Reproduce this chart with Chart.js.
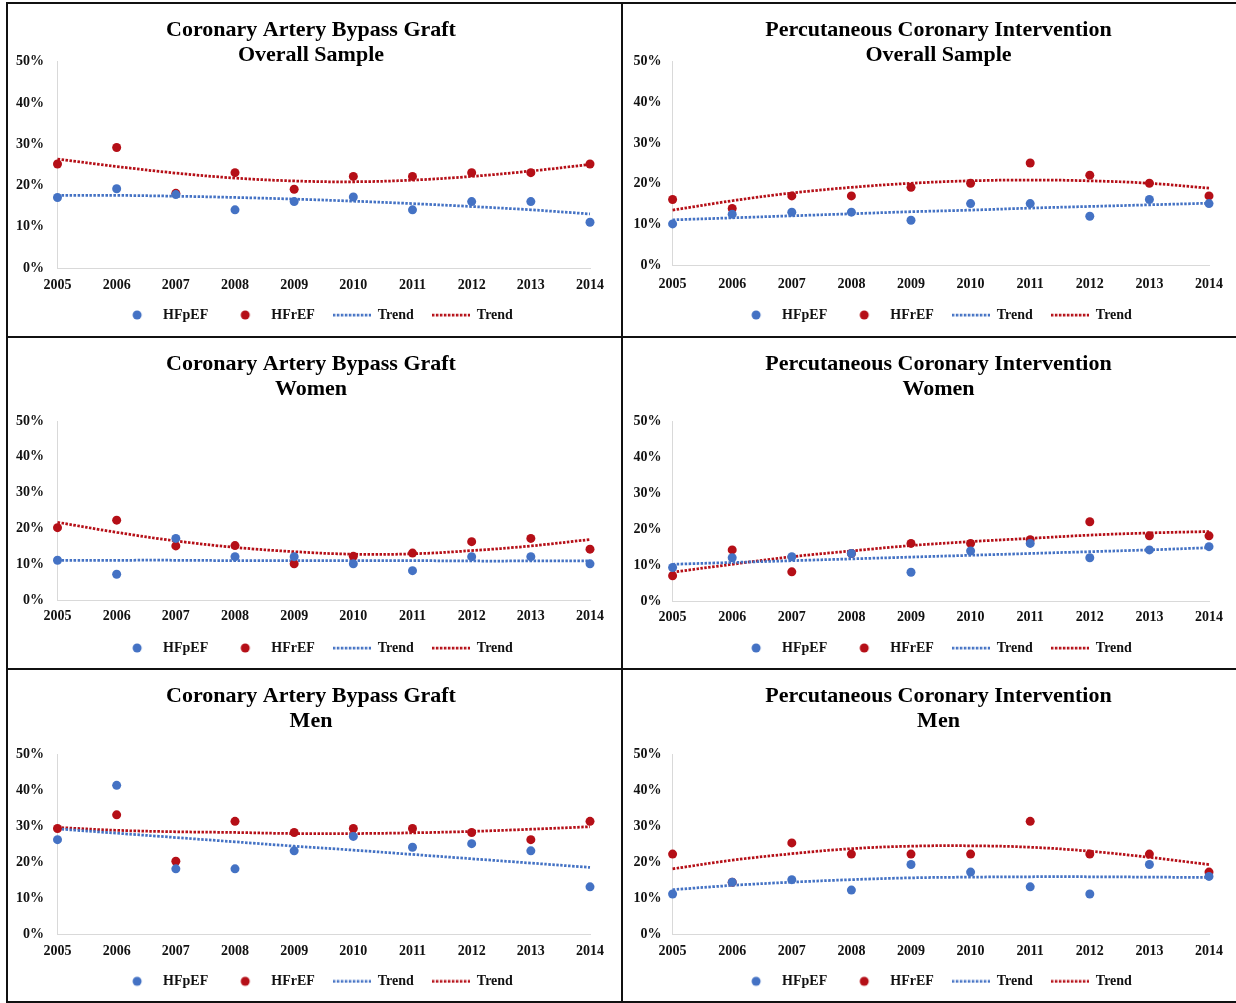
<!DOCTYPE html>
<html><head><meta charset="utf-8">
<script src="https://cdn.jsdelivr.net/npm/chart.js@4.4.1/dist/chart.umd.min.js"></script>
<style>
html,body{margin:0;padding:0;background:#fff;}
body{width:1236px;height:1003px;position:relative;overflow:hidden;}
canvas{position:absolute;}
.ln{position:absolute;background:#111;z-index:5;}
</style></head><body>
<canvas id="c0" width="613" height="332" style="left:8px;top:4px"></canvas>
<canvas id="c1" width="613" height="332" style="left:623px;top:4px"></canvas>
<canvas id="c2" width="613" height="330" style="left:8px;top:338px"></canvas>
<canvas id="c3" width="613" height="330" style="left:623px;top:338px"></canvas>
<canvas id="c4" width="613" height="331" style="left:8px;top:670px"></canvas>
<canvas id="c5" width="613" height="331" style="left:623px;top:670px"></canvas>
<div class="ln" style="left:6px;top:2px;width:1230px;height:2px"></div>
<div class="ln" style="left:6px;top:2px;width:2px;height:1001px"></div>
<div class="ln" style="left:6px;top:1001px;width:1230px;height:2px"></div>
<div class="ln" style="left:621px;top:2px;width:2px;height:1001px"></div>
<div class="ln" style="left:6px;top:336px;width:1230px;height:2px"></div>
<div class="ln" style="left:6px;top:668px;width:1230px;height:2px"></div>
<script>
// ---------- DATA ----------
const years = ['2005','2006','2007','2008','2009','2010','2011','2012','2013','2014'];
const seriesLabels = ['HFpEF','HFrEF','Trend','Trend'];
const yTicks = [0,10,20,30,40,50];

const titleCabgAll = ['Coronary Artery Bypass Graft','Overall Sample'];
const titlePciAll  = ['Percutaneous Coronary Intervention','Overall Sample'];
const titleCabgW   = ['Coronary Artery Bypass Graft','Women'];
const titlePciW    = ['Percutaneous Coronary Intervention','Women'];
const titleCabgM   = ['Coronary Artery Bypass Graft','Men'];
const titlePciM    = ['Percutaneous Coronary Intervention','Men'];

const cabgAllHFpEF      = [17.1,19.2,17.8,14.1,16.1,17.2,14.1,16.1,16.1,11.1];
const cabgAllHFrEF      = [25.2,29.2,18.1,23.1,19.1,22.2,22.2,23.1,23.1,25.2];
const cabgAllHFpEFTrend = [17.6,17.6,17.4,17.1,16.7,16.2,15.6,14.9,14.1,13.1];
const cabgAllHFrEFTrend = [26.4,24.6,23.0,21.8,21.1,20.9,21.3,22.2,23.5,25.1];

const pciAllHFpEF      = [10.1,12.5,13.0,13.0,11.0,15.1,15.1,12.0,16.1,15.1];
const pciAllHFrEF      = [16.1,13.9,17.0,17.0,19.1,20.1,25.1,22.1,20.1,17.0];
const pciAllHFpEFTrend = [11.1,11.6,12.1,12.6,13.1,13.5,14.0,14.4,14.8,15.2];
const pciAllHFrEFTrend = [13.5,15.8,17.7,19.1,20.1,20.7,20.9,20.7,20.1,18.9];

const cabgWHFpEF      = [11.1,7.2,17.2,12.1,12.1,10.1,8.2,12.1,12.1,10.1];
const cabgWHFrEF      = [20.2,22.3,15.1,15.2,10.1,12.2,13.1,16.3,17.2,14.2];
const cabgWHFpEFTrend = [11.1,11.1,11.1,11.0,11.0,11.0,11.0,10.9,10.9,10.9];
const cabgWHFrEFTrend = [21.7,18.9,16.5,14.7,13.5,12.8,12.9,13.8,15.1,16.9];

const pciWHFpEF      = [9.3,12.0,12.3,13.2,8.0,13.9,16.0,12.0,14.2,15.1];
const pciWHFrEF      = [7.0,14.2,8.1,13.2,16.0,16.0,17.0,22.0,18.1,18.1];
const pciWHFpEFTrend = [10.2,10.7,11.2,11.7,12.2,12.7,13.2,13.7,14.2,14.8];
const pciWHFrEFTrend = [8.0,10.2,12.3,13.9,15.4,16.5,17.4,18.3,18.9,19.3];

const cabgMHFpEF      = [26.2,41.3,18.1,18.1,23.1,27.1,24.1,25.1,23.1,13.1];
const cabgMHFrEF      = [29.3,33.1,20.2,31.3,28.2,29.3,29.3,28.2,26.2,31.3];
const cabgMHFpEFTrend = [29.2,28.0,26.8,25.6,24.4,23.3,22.1,20.9,19.7,18.5];
const cabgMHFrEFTrend = [29.6,28.8,28.4,28.2,27.9,27.9,28.1,28.5,29.1,29.8];

const pciMHFpEF      = [11.1,14.4,15.1,12.2,19.3,17.2,13.1,11.1,19.3,16.0];
const pciMHFrEF      = [22.2,14.4,25.3,22.2,22.2,22.2,31.3,22.2,22.2,17.2];
const pciMHFpEFTrend = [12.3,13.5,14.4,15.1,15.6,15.8,15.9,15.9,15.8,15.7];
const pciMHFrEFTrend = [18.1,20.5,22.3,23.7,24.4,24.5,24.1,23.0,21.3,19.3];

// ---------- STYLE / LAYOUT ----------
const BLUE = '#4472C4', RED = '#B50F17';
const FONT = '"Liberation Serif", "Times New Roman", serif';
Chart.defaults.font.family = FONT;
Chart.defaults.font.weight = 'bold';
Chart.defaults.color = '#111';

const COL1 = {left:49.5, padR:31, yPad:13.5, titleDx:12, legendDx:16.5};
const COL2 = {left:49.6, padR:27, yPad:11, titleDx:22.5, legendDx:18.5};

const panels = [
  {id:'c0', title:titleCabgAll, d:[cabgAllHFpEF,cabgAllHFrEF,cabgAllHFpEFTrend,cabgAllHFrEFTrend], C:COL1, L:{top:57.7,bottom:264,xlab:281,legend:311}},
  {id:'c1', title:titlePciAll,  d:[pciAllHFpEF,pciAllHFrEF,pciAllHFpEFTrend,pciAllHFrEFTrend],     C:COL2, L:{top:57.7,bottom:261,xlab:280,legend:311}},
  {id:'c2', title:titleCabgW,   d:[cabgWHFpEF,cabgWHFrEF,cabgWHFpEFTrend,cabgWHFrEFTrend],         C:COL1, L:{top:83,bottom:262,xlab:278.7,legend:310}},
  {id:'c3', title:titlePciW,    d:[pciWHFpEF,pciWHFrEF,pciWHFpEFTrend,pciWHFrEFTrend],             C:COL2, L:{top:83,bottom:263,xlab:279.7,legend:310}},
  {id:'c4', title:titleCabgM,   d:[cabgMHFpEF,cabgMHFrEF,cabgMHFpEFTrend,cabgMHFrEFTrend],         C:COL1, L:{top:84,bottom:264,xlab:281.3,legend:311.3}},
  {id:'c5', title:titlePciM,    d:[pciMHFpEF,pciMHFrEF,pciMHFpEFTrend,pciMHFrEFTrend],             C:COL2, L:{top:84,bottom:264,xlab:281.3,legend:311.3}}
];

const DASH = [2.5, 1.5];
function dotImg(color){
  const c = document.createElement('canvas'); c.width = 12; c.height = 12;
  const x = c.getContext('2d'); x.fillStyle = color; x.beginPath(); x.arc(6,6,4.5,0,Math.PI*2); x.fill();
  return c;
}
function lineImg(color){
  const c = document.createElement('canvas'); c.width = 38; c.height = 4;
  const x = c.getContext('2d'); x.strokeStyle = color; x.lineWidth = 2.75; x.setLineDash(DASH);
  x.beginPath(); x.moveTo(0,2); x.lineTo(38,2); x.stroke();
  return c;
}
const legendImgs = [dotImg(BLUE), dotImg(RED), lineImg(BLUE), lineImg(RED)];
const colors = [BLUE, RED, BLUE, RED];

// shifts title and legend horizontally to match the reference centring
const shiftPlugin = {
  id: 'shiftBlocks',
  afterLayout(chart, args, opts) {
    if (chart.titleBlock) { chart.titleBlock.left += opts.titleDx; chart.titleBlock.right += opts.titleDx; }
    if (chart.legend) { chart.legend.left += opts.legendDx; chart.legend.right += opts.legendDx; }
  }
};

panels.forEach(p => {
  const cv = document.getElementById(p.id);
  const H = cv.height, L = p.L, C = p.C;
  const titleTop = 13.5, lineH = 25;
  const datasets = p.d.map((arr, i) => {
    const trend = i >= 2;
    return trend ? {
      label: seriesLabels[i], data: arr, borderColor: colors[i], backgroundColor: colors[i],
      borderWidth: 2.75, borderDash: DASH, pointRadius: 0, pointHoverRadius: 0, tension: 0.4, fill: false
    } : {
      label: seriesLabels[i], data: arr, showLine: false, borderColor: colors[i], backgroundColor: colors[i],
      pointBackgroundColor: colors[i], pointBorderWidth: 0, pointRadius: 4.5, pointHoverRadius: 4.5, clip: false
    };
  });
  new Chart(cv, {
    type: 'line',
    data: { labels: years, datasets },
    plugins: [shiftPlugin],
    options: {
      responsive: false, animation: false, events: [],
      layout: { padding: { left: 0, right: C.padR, top: 0, bottom: H - L.legend - 17 } },
      plugins: {
        shiftBlocks: { titleDx: C.titleDx, legendDx: C.legendDx },
        tooltip: { enabled: false },
        title: {
          display: true, text: p.title, color: '#000',
          font: { size: 22, weight: 'bold', family: FONT, lineHeight: lineH + 'px' },
          padding: { top: titleTop, bottom: L.top - titleTop - 2 * lineH }
        },
        legend: {
          position: 'bottom',
          labels: {
            usePointStyle: true, pointStyleWidth: 38, padding: 18, color: '#111',
            font: { size: 14, weight: 'bold', family: FONT },
            generateLabels(chart) {
              const items = Chart.defaults.plugins.legend.labels.generateLabels(chart);
              items.forEach(it => { it.pointStyle = legendImgs[it.datasetIndex]; it.lineWidth = 0; });
              return items;
            }
          }
        }
      },
      scales: {
        x: {
          type: 'category', offset: false,
          grid: { display: false, drawTicks: false },
          border: { display: true, color: '#d9d9d9', width: 1 },
          ticks: { padding: L.xlab - L.bottom - 8.4, color: '#111', font: { size: 14, weight: 'bold', family: FONT }, maxRotation: 0, autoSkip: false },
          afterFit: s => { s.height = L.legend - 25 - L.bottom; }
        },
        y: {
          min: 0, max: 50,
          grid: { display: false, drawTicks: false },
          border: { display: true, color: '#d9d9d9', width: 1 },
          afterBuildTicks: s => { s.ticks = yTicks.map(v => ({ value: v })); },
          ticks: { padding: C.yPad, color: '#111', font: { size: 14, weight: 'bold', family: FONT }, callback: v => v + '%' },
          afterFit: s => { s.width = C.left; }
        }
      }
    }
  });
});
</script>
</body></html>
